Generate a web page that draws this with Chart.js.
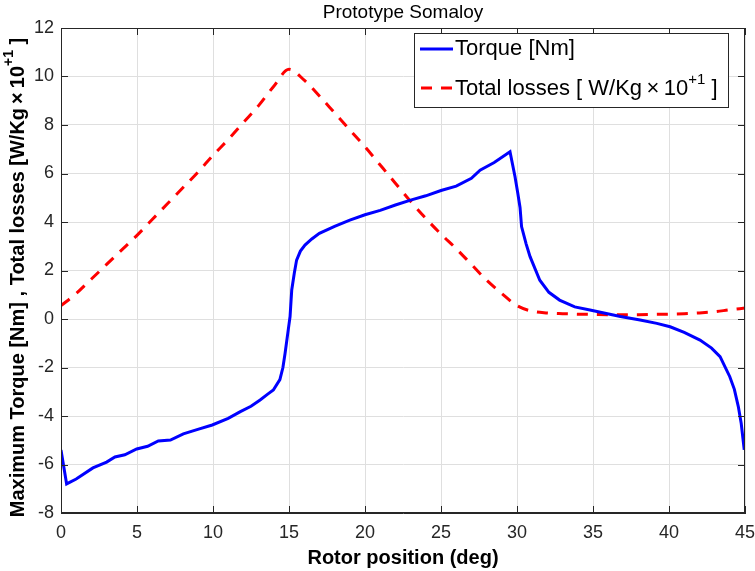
<!DOCTYPE html>
<html>
<head>
<meta charset="utf-8">
<script src="https://cdn.jsdelivr.net/npm/chart.js@4/dist/chart.umd.min.js"></script>
<style>
html,body{margin:0;padding:0;background:#fff;}
#wrap{width:755px;height:571px;position:relative;}
</style>
</head>
<body>
<div id="wrap"><canvas id="c" width="755" height="571"></canvas></div>
<script>
// ---- data ----
const torqueDeg = [0, 0.37, 1, 2.1, 3, 3.55, 4.2, 4.98, 5.7, 6.4, 7.2, 8.05, 9, 9.95, 11, 11.8, 12.5, 13.1, 13.6, 13.97, 14.4, 14.6, 14.74, 14.95, 15.07, 15.18, 15.35, 15.5, 15.75, 16.05, 16.5, 17, 18, 19, 20, 21, 22, 23, 24, 25, 26, 27, 27.57, 28.5, 29.54, 29.87, 30.05, 30.2, 30.3, 30.6, 30.86, 31.5, 32.1, 32.8, 33.8, 34.8, 36.8, 38.1, 39.2, 40.07, 41, 42.04, 42.8, 43.36, 44.0, 44.3, 44.56, 44.75, 44.95];
const torqueNm = [-5.4, -6.8, -6.6, -6.14, -5.9, -5.69, -5.6, -5.36, -5.25, -5.03, -4.99, -4.74, -4.55, -4.37, -4.1, -3.82, -3.6, -3.34, -3.1, -2.93, -2.5, -2.0, -1.42, -0.45, 0.1, 1.2, 1.9, 2.43, 2.8, 3.05, 3.3, 3.53, 3.82, 4.08, 4.3, 4.48, 4.7, 4.9, 5.08, 5.3, 5.48, 5.8, 6.14, 6.45, 6.9, 5.87, 5.2, 4.6, 3.81, 3.1, 2.57, 1.6, 1.1, 0.78, 0.5, 0.37, 0.1, -0.04, -0.18, -0.32, -0.55, -0.87, -1.2, -1.55, -2.38, -2.9, -3.61, -4.3, -5.4];
const lossDeg = [0, 1, 2, 3, 4, 5, 6, 7, 8, 9, 10, 11, 12, 13, 14, 15, 16, 17, 18, 19, 20, 21, 22, 23, 24, 25, 26, 27, 28, 29, 30, 31, 32, 33, 34, 35, 36, 37, 38, 39, 40, 41, 42, 43, 44, 45];
const lossVal = [0.55, 1.05, 1.65, 2.25, 2.85, 3.45, 4.1, 4.75, 5.4, 6.05, 6.75, 7.4, 8.1, 8.8, 9.6, 10.3, 9.85, 9.2, 8.5, 7.8, 7.1, 6.35, 5.6, 4.85, 4.15, 3.5, 2.9, 2.25, 1.6, 1.05, 0.55, 0.32, 0.25, 0.22, 0.2, 0.19, 0.18, 0.18, 0.18, 0.19, 0.2, 0.22, 0.25, 0.3, 0.38, 0.45];
const xTicks = [0, 5, 10, 15, 20, 25, 30, 35, 40, 45];
const yTicks = [-8, -6, -4, -2, 0, 2, 4, 6, 8, 10, 12];
const titleText = "Prototype Somaloy";
const xTitle = "Rotor position (deg)";
const yTitleParts = [["Maximum Torque [Nm] , Total losses [W/Kg\u2009\u00D7\u200910", false], ["+1", true], [" ]", false]];
const legendTorque = [["Torque [Nm]", false]];
const legendLoss = [["Total losses [ W/Kg\u2009\u00D7\u200910", false], ["+1", true], [" ]", false]];

const FONT = "'Liberation Sans', Arial, Helvetica, sans-serif";

function richWidth(ctx, parts, size, bold) {
  let w = 0;
  for (const [t, sup] of parts) {
    ctx.font = (bold ? "bold " : "") + (sup ? Math.round(size * 0.7) : size) + "px " + FONT;
    w += ctx.measureText(t).width;
  }
  return w;
}
function drawRich(ctx, parts, x, y, size, bold) {
  ctx.textBaseline = "middle";
  ctx.textAlign = "left";
  for (const [t, sup] of parts) {
    const s = sup ? Math.round(size * 0.7) : size;
    ctx.font = (bold ? "bold " : "") + s + "px " + FONT;
    ctx.fillText(t, x, sup ? y - size * 0.42 : y);
    x += ctx.measureText(t).width;
  }
}

const deco = {
  id: 'deco',
  afterDraw(chart) {
    const ctx = chart.ctx;
    const a = chart.chartArea;
    const xs = chart.scales.x, ys = chart.scales.y;
    ctx.save();
    // box
    ctx.strokeStyle = '#262626';
    ctx.lineWidth = 1;
    ctx.strokeRect(a.left + 0.5, a.top + 0.5, a.right - a.left - 1, a.bottom - a.top - 1);
    // inward ticks
    const tl = 7;
    ctx.beginPath();
    for (const v of xTicks) {
      const px = Math.round(xs.getPixelForValue(v)) + 0.5;
      ctx.moveTo(px, a.bottom); ctx.lineTo(px, a.bottom - tl);
      ctx.moveTo(px, a.top); ctx.lineTo(px, a.top + tl);
    }
    for (const v of yTicks) {
      const py = Math.round(ys.getPixelForValue(v)) + 0.5;
      ctx.moveTo(a.left, py); ctx.lineTo(a.left + tl, py);
      ctx.moveTo(a.right, py); ctx.lineTo(a.right - tl, py);
    }
    ctx.stroke();
    // title
    ctx.fillStyle = '#000';
    ctx.font = "19px " + FONT;
    ctx.textAlign = 'center';
    ctx.textBaseline = 'middle';
    ctx.fillText(titleText, (a.left + a.right) / 2, 13);
    // x title
    ctx.font = "bold 20px " + FONT;
    ctx.fillText(xTitle, (a.left + a.right) / 2, 558);
    // y title
    ctx.save();
    ctx.translate(18, (a.top + a.bottom) / 2 + 7);
    ctx.rotate(-Math.PI / 2);
    const w = richWidth(ctx, yTitleParts, 20, true);
    ctx.fillStyle = '#000';
    drawRich(ctx, yTitleParts, -w / 2, 0, 20, true);
    ctx.restore();
    // legend
    const lx = 414, ly = 33, lw = 314, lh = 74;
    ctx.fillStyle = '#fff';
    ctx.fillRect(lx, ly, lw, lh);
    ctx.strokeStyle = '#262626';
    ctx.lineWidth = 1;
    ctx.strokeRect(lx + 0.5, ly + 0.5, lw, lh);
    ctx.lineWidth = 3;
    ctx.strokeStyle = '#0000ff';
    ctx.beginPath(); ctx.moveTo(420, 49); ctx.lineTo(453, 49); ctx.stroke();
    ctx.strokeStyle = '#ff0000';
    ctx.setLineDash([11, 9]);
    ctx.beginPath(); ctx.moveTo(421, 88); ctx.lineTo(453, 88); ctx.stroke();
    ctx.setLineDash([]);
    ctx.fillStyle = '#000';
    drawRich(ctx, legendTorque, 455, 49, 22, false);
    drawRich(ctx, legendLoss, 455, 89, 22, false);
    ctx.restore();
  }
};

const ctx = document.getElementById('c').getContext('2d');
new Chart(ctx, {
  type: 'line',
  data: {
    datasets: [
      {
        label: 'Torque [Nm]',
        data: torqueDeg.map((d, i) => ({x: d, y: torqueNm[i]})),
        borderColor: '#0000ff',
        borderWidth: 3,
        pointRadius: 0,
        tension: 0,
        fill: false
      },
      {
        label: 'Total losses',
        data: lossDeg.map((d, i) => ({x: d, y: lossVal[i]})),
        borderColor: '#ff0000',
        borderWidth: 3,
        borderDash: [11, 9],
        pointRadius: 0,
        cubicInterpolationMode: 'monotone',
        fill: false
      }
    ]
  },
  options: {
    responsive: false,
    animation: false,
    devicePixelRatio: 1,
    layout: {padding: {left: 0, right: 10, top: 28, bottom: 0}},
    plugins: {legend: {display: false}, title: {display: false}, tooltip: {enabled: false}},
    scales: {
      x: {
        type: 'linear', min: 0, max: 45,
        afterFit(s) { s.height = 58; s.paddingLeft = 0; s.paddingRight = 0; },
        afterBuildTicks(s) { s.ticks = xTicks.map(v => ({value: v})); },
        grid: {color: '#dfdfdf', drawTicks: false, lineWidth: 1},
        border: {display: true, color: '#262626'},
        ticks: {font: {family: FONT, size: 18}, color: '#262626', padding: 9, maxRotation: 0, autoSkip: false}
      },
      y: {
        type: 'linear', min: -8, max: 12,
        afterFit(s) { s.width = 61; s.paddingTop = 0; s.paddingBottom = 0; },
        afterBuildTicks(s) { s.ticks = yTicks.map(v => ({value: v})); },
        grid: {color: '#dfdfdf', drawTicks: false, lineWidth: 1},
        border: {display: true, color: '#262626'},
        ticks: {font: {family: FONT, size: 18}, color: '#262626', padding: 7, autoSkip: false}
      }
    }
  },
  plugins: [deco]
});
</script>
</body>
</html>
